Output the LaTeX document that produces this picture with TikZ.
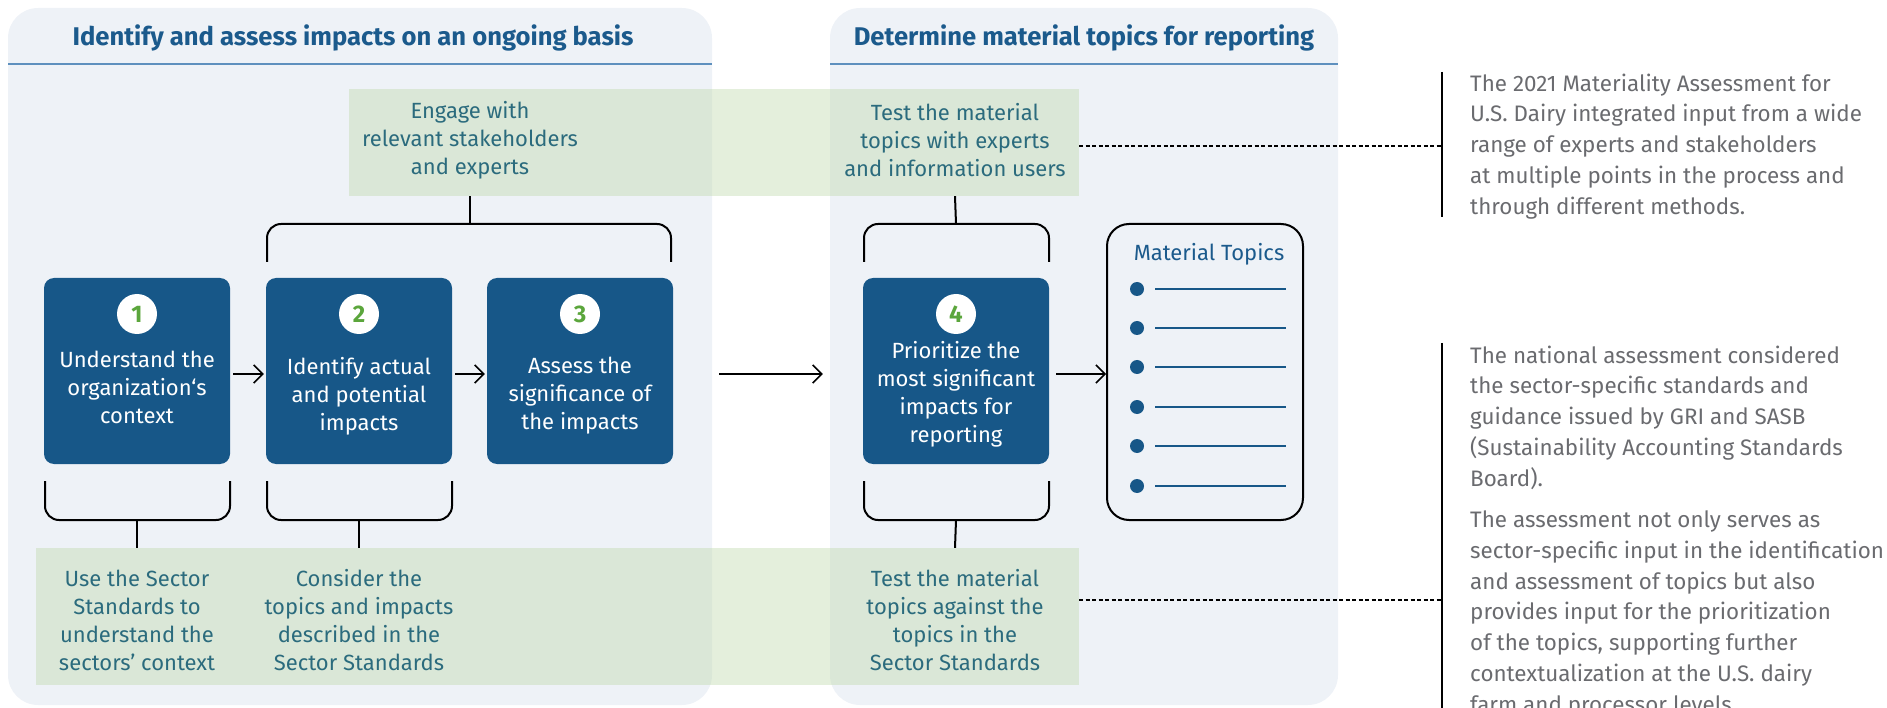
\documentclass[tikz,border=0pt]{standalone}
\usepackage{fontspec}
\setmainfont{Fira Sans}
\usetikzlibrary{arrows.meta,calc}
\definecolor{panel}{HTML}{EEF2F7}
\definecolor{hdr}{HTML}{1B5A8C}
\definecolor{boxblue}{HTML}{175788}
\definecolor{numgreen}{HTML}{5BA63C}
\definecolor{bandgreen}{RGB}{188,215,168}
\definecolor{tealtxt}{HTML}{2B6B7D}
\definecolor{graytext}{HTML}{6A6B6F}
\definecolor{hline}{HTML}{5E90BE}
\tikzset{
  panelbg/.style={fill=panel, rounded corners=30pt},
  titletxt/.style={font=\fontsize{25.6}{28}\selectfont\bfseries, text=hdr, inner sep=0},
  band/.style={fill=bandgreen, fill opacity=0.4, draw=none, inner sep=0},
  gtext/.style={font=\fontsize{22}{28}\selectfont, text=tealtxt, align=center, inner sep=0},
  stepbox/.style={fill=boxblue, rounded corners=10pt, minimum width=186pt, minimum height=186pt, inner sep=0},
  numc/.style={circle, fill=white, minimum size=40pt, inner sep=0, font=\fontsize{24}{24}\selectfont\bfseries, text=numgreen},
  steptxt/.style={font=\fontsize{22}{28}\selectfont, text=white, align=center, inner sep=0},
  arr/.style={-{Straight Barb[length=9pt,width=18pt]}, line width=1.6pt},
  brk/.style={line width=2pt, rounded corners=14pt},
  stem/.style={line width=2pt},
  dashline/.style={line width=1.2pt, dash pattern=on 4pt off 2.5pt},
  vline/.style={line width=1.5pt},
  note/.style={font=\fontsize{22.4}{30.8}\selectfont, text=graytext, align=left, anchor=north west, inner sep=0},
  topicbox/.style={draw, line width=2pt, rounded corners=22pt, minimum width=196pt, minimum height=296pt, inner sep=0},
  mtitle/.style={font=\fontsize{22}{26}\selectfont, text=hdr, inner sep=0},
}
\begin{document}
\begin{tikzpicture}[x=1pt,y=-1pt]
\useasboundingbox (0,0) rectangle (1887,708);
% panels
\fill[panelbg] (8,8) rectangle (712,705);
\fill[panelbg] (830,8) rectangle (1338,705);
\draw[hline, line width=1.5pt] (8,64) -- (712,64);
\draw[hline, line width=1.5pt] (830,64) -- (1338,64);
\node[titletxt] (t1) at (353,38) {Identify and assess impacts on an ongoing basis};
\node[titletxt] (t2) at (1084,38) {Determine material topics for reporting};
% bands
\node[band, minimum width=730pt, minimum height=107pt] (topband) at (714,142.5) {};
\node[band, minimum width=1043pt, minimum height=137pt] (botband) at (557.5,616.5) {};
\node[gtext] (engage) at (470,140) {Engage with\\relevant stakeholders\\and experts};
\node[gtext] (testexp) at (955,140) {Test the material\\topics with experts\\and information users};
\node[gtext] (usesec) at (137,620) {Use the Sector\\Standards to\\understand the\\sectors' context};
\node[gtext] (consider) at (359,620) {Consider the\\topics and impacts\\described in the\\Sector Standards};
\node[gtext] (testsec) at (955,620) {Test the material\\topics against the\\topics in the\\Sector Standards};
% step boxes
\node[stepbox] (b1) at (137,371) {};
\node[stepbox] (b2) at (359,371) {};
\node[stepbox] (b3) at (580,371) {};
\node[stepbox] (b4) at (956,371) {};
\node[numc] (n1) at (137,314) {1};
\node[numc] (n2) at (359,314) {2};
\node[numc] (n3) at (580,314) {3};
\node[numc] (n4) at (956,314) {4};
\node[steptxt] (s1) at (137,387) {Understand the\\organization‘s\\context};
\node[steptxt] (s2) at (359,396) {Identify actual\\and potential\\impacts};
\node[steptxt] (s3) at (580,396) {Assess the\\significance of\\the impacts};
\node[steptxt] (s4) at (956,394) {Prioritize the\\most significant\\impacts for\\reporting};
% material topics
\node[topicbox] (mt) at (1205,372) {};
\node[mtitle] (mtt) at (1209,254) {Material Topics};
\foreach \yy in {289,328,367,407,446,486}{
  \fill[boxblue] (1137,\yy) circle (7);
  \draw[boxblue, line width=1.8pt] (1155,\yy) -- (1286,\yy);
}
% arrows
\draw[arr] (b1.east) ++(3,3) -- ($(b2.west)+(-2,3)$);
\draw[arr] (b2.east) ++(3,3) -- ($(b3.west)+(-2,3)$);
\draw[arr] (b3.east) ++(46,3) -- ($(b4.west)+(-40,3)$);
\draw[arr] (b4.east) ++(7,3) -- ($(mt.west)+(0,2)$);
% upper brackets
\draw[brk] (267,262) |- (671,224) -- (671,262);
\draw[brk] (864,262) |- (1049,224) -- (1049,262);
\coordinate (u23) at (470,224);
\coordinate (u4) at (956,224);
\draw[stem] (engage |- topband.south) -- (u23);
\draw[stem] (testexp |- topband.south) -- (u4);
% lower brackets
\draw[brk] (45,481) |- (230,520) -- (230,481);
\draw[brk] (267,481) |- (452,520) -- (452,481);
\draw[brk] (864,481) |- (1049,520) -- (1049,481);
\coordinate (l1) at (137,520);
\coordinate (l2) at (359,520);
\coordinate (l4) at (956,520);
\draw[stem] (l1) -- (usesec |- botband.north);
\draw[stem] (l2) -- (consider |- botband.north);
\draw[stem] (l4) -- (testsec |- botband.north);
% side notes
\coordinate (v1a) at (1442,72);
\coordinate (v1b) at (1442,217);
\coordinate (v2a) at (1442,343);
\coordinate (v2b) at (1442,712);
\draw[vline] (v1a) -- (v1b);
\draw[vline] (v2a) -- (v2b);
\draw[dashline] (topband.east |- 0,146) -- (v1a |- 0,146);
\draw[dashline] (botband.east |- 0,600) -- (v2a |- 0,600);
\node[note] (note1) at (1470,73.5) {The 2021 Materiality Assessment for\\U.S. Dairy integrated input from a wide\\range of experts and stakeholders\\at multiple points in the process and\\through different methods.};
\node[note] (note2) at (1470,345.5) {The national assessment considered\\the sector-specific standards and\\guidance issued by GRI and SASB\\(Sustainability Accounting Standards\\Board).};
\node[note] (note3) at (1470,510.5) {The assessment not only serves as\\sector-specific input in the identification\\and assessment of topics but also\\provides input for the prioritization\\of the topics, supporting further\\contextualization at the U.S. dairy\\farm and processor levels.};
\end{tikzpicture}
\end{document}
